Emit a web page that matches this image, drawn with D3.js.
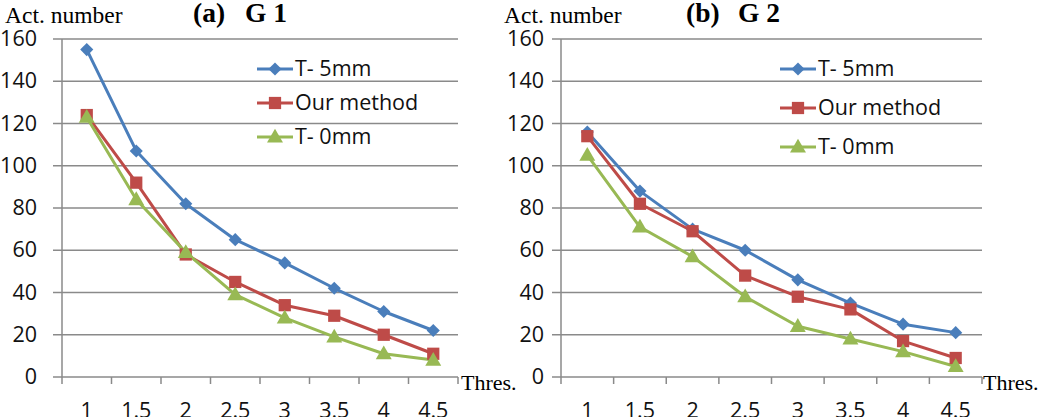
<!DOCTYPE html>
<html>
<head>
<meta charset="utf-8">
<script src="https://cdn.jsdelivr.net/npm/d3@7"></script>
<style>
html,body{margin:0;padding:0;background:#fff;}
svg{display:block;}
</style>
</head>
<body>
<script>
// ---- data ----
const categories = ["1","1.5","2","2.5","3","3.5","4","4.5"];
const seriesNames = ["T- 5mm","Our method","T- 0mm"];
const g1_T5 = [155,107,82,65,54,42,31,22];
const g1_Our = [124,92,58,45,34,29,20,11];
const g1_T0 = [123,84,59,39,28,19,11,8];
const g2_T5 = [116,88,70,60,46,35,25,21];
const g2_Our = [114,82,69,48,38,32,17,9];
const g2_T0 = [105,71,57,38,24,18,12,5];
const yTicks = [0,20,40,60,80,100,120,140,160];
const titlesA = ["(a)","G 1"];
const titlesB = ["(b)","G 2"];
const yAxisTitle = "Act. number";
const xAxisTitle = "Thres.";

const colors = ["#4a7ebb","#be4b48","#98b954"];
const symbols = [d3.symbolDiamond2, d3.symbolSquare, d3.symbolTriangle];

const W = 1050, H = 417;
const svg = d3.select("body").append("svg").attr("width",W).attr("height",H);

const panels = [
  {x0:62, x1:458, tickLblX:37, series:[g1_T5,g1_Our,g1_T0], titles:titlesA, titleX:[193,245],
   yTitleX:5, xTitleX:461, legX:257, legY:[69,103,137]},
  {x0:561, x1:982, tickLblX:544, series:[g2_T5,g2_Our,g2_T0], titles:titlesB, titleX:[686,738],
   yTitleX:504, xTitleX:983, legX:780, legY:[69,108,147]}
];

const y = d3.scaleLinear().domain([0,160]).range([377,39]);
const sans = "'Open Sans', sans-serif";
const serif = "'Liberation Serif','Times New Roman',serif";
const gridCol = "#8a8a8a";

panels.forEach(p => {
  const g = svg.append("g");
  const x = d3.scaleBand().domain(categories).range([p.x0,p.x1]);

  // grid
  g.selectAll("line.grid").data(yTicks).enter().append("line")
    .attr("x1",p.x0-9).attr("x2",p.x1)
    .attr("y1",d=>y(d)).attr("y2",d=>y(d))
    .attr("stroke",gridCol).attr("stroke-width",1.5);
  // y axis line
  g.append("line").attr("x1",p.x0).attr("x2",p.x0).attr("y1",y(160)).attr("y2",384)
    .attr("stroke",gridCol).attr("stroke-width",1.5);
  // x ticks at category boundaries
  const bounds = categories.map(c=>x(c)).concat([p.x1]);
  g.selectAll("line.xt").data(bounds.slice(1)).enter().append("line")
    .attr("x1",d=>d).attr("x2",d=>d).attr("y1",377).attr("y2",384)
    .attr("stroke",gridCol).attr("stroke-width",1.5);

  // y tick labels
  g.selectAll("text.yl").data(yTicks).enter().append("text")
    .attr("x",p.tickLblX).attr("y",d=>y(d)+7)
    .attr("text-anchor","end").attr("font-family",sans).attr("font-size",21.5)
    .attr("fill","#111").text(d=>d);
  // x tick labels
  g.selectAll("text.xl").data(categories).enter().append("text")
    .attr("x",d=>x(d)+x.bandwidth()/2).attr("y",418)
    .attr("text-anchor","middle").attr("font-family",sans).attr("font-size",21.5)
    .attr("fill","#111").text(d=>d);

  // series
  const line = d3.line().x((d,i)=>x(categories[i])+x.bandwidth()/2).y(d=>y(d));
  p.series.forEach((s,k)=>{
    g.append("path").datum(s).attr("d",line).attr("fill","none")
      .attr("stroke",colors[k]).attr("stroke-width",3).attr("stroke-linejoin","round");
  });
  p.series.forEach((s,k)=>{
    const sz = k===0 ? 110 : (k===1 ? 150 : 110);
    g.selectAll(null).data(s).enter().append("path")
      .attr("d",d3.symbol().type(symbols[k]).size(sz))
      .attr("transform",(d,i)=>`translate(${x(categories[i])+x.bandwidth()/2},${y(d)+(k===2?1:0)})`)
      .attr("fill",colors[k]);
  });

  // legend
  seriesNames.forEach((n,k)=>{
    const ly = p.legY[k];
    g.append("line").attr("x1",p.legX).attr("x2",p.legX+36).attr("y1",ly).attr("y2",ly)
      .attr("stroke",colors[k]).attr("stroke-width",3);
    const sz = k===0 ? 110 : (k===1 ? 150 : 110);
    g.append("path").attr("d",d3.symbol().type(symbols[k]).size(sz))
      .attr("transform",`translate(${p.legX+18},${ly+(k===2?1:0)})`).attr("fill",colors[k]);
    g.append("text").attr("x",p.legX+38).attr("y",ly+7)
      .attr("font-family",sans).attr("font-size",21.5).attr("fill","#111").text(n);
  });

  // titles
  g.append("text").attr("x",p.titleX[0]).attr("y",22).attr("font-family",serif)
    .attr("font-weight","bold").attr("font-size",27.5).text(p.titles[0]);
  g.append("text").attr("x",p.titleX[1]).attr("y",22).attr("font-family",serif)
    .attr("font-weight","bold").attr("font-size",27.5).text(p.titles[1]);
  g.append("text").attr("x",p.yTitleX).attr("y",23).attr("font-family",serif)
    .attr("font-size",23.5).text(yAxisTitle);
  g.append("text").attr("x",p.xTitleX).attr("y",390).attr("font-family",serif)
    .attr("font-size",22).text(xAxisTitle);
});
</script>
</body>
</html>
